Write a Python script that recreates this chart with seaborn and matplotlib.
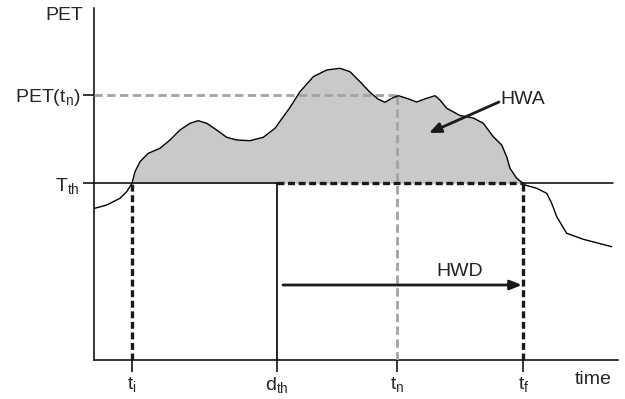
import numpy as np
import matplotlib
matplotlib.use("Agg")
import matplotlib.pyplot as plt
import seaborn as sns

# ---- data (time units, PET units) ----
time = [0.0, 1.27, 2.6, 3.27, 3.8, 4.1, 4.6, 5.43, 6.6, 7.6, 8.6, 9.6, 10.43, 11.27,
        12.27, 13.27, 14.27, 15.6, 16.93, 18.1, 18.93, 19.6, 20.6, 21.93, 23.27, 24.6,
        25.6, 26.6, 27.6, 28.43, 29.1, 29.77, 30.43, 31.27, 32.27, 33.27, 34.1, 34.6,
        35.27, 36.6, 37.93, 38.93, 39.93, 40.77, 41.27, 41.6, 42.27, 42.9, 43.1, 44.27,
        45.27, 45.77, 46.27, 47.27, 48.93, 51.77]
pet = [15.15, 15.5, 16.17, 16.83, 17.67, 18.83, 19.83, 20.67, 21.17, 22.0, 23.0, 23.67,
       23.93, 23.67, 23.0, 22.27, 22.0, 21.93, 22.27, 23.17, 24.33, 25.25, 26.83, 28.33,
       29.0, 29.17, 28.83, 27.83, 26.77, 26.07, 25.77, 26.17, 26.43, 26.17, 25.8, 26.17,
       26.43, 26.0, 25.17, 24.45, 24.2, 23.67, 22.33, 21.5, 20.33, 19.17, 18.17, 17.67,
       17.5, 17.17, 16.67, 15.67, 14.33, 12.67, 12.07, 11.33]

T_th = 17.67
PET_tn = 26.5
t_i, d_th, t_n, t_f = 3.77, 18.27, 30.27, 42.93
x_max, y_max = 52.4, 35.2
hwd_y = 7.5

x_tick_pos = [t_i, d_th, t_n, t_f]
x_tick_labels = [r'$\mathrm{t_i}$', r'$\mathrm{d_{th}}$', r'$\mathrm{t_n}$', r'$\mathrm{t_f}$']
y_tick_pos = [T_th, PET_tn]
y_tick_labels = [r'$\mathrm{T_{th}}$', r'PET(t$_\mathrm{n}$)']

# ---- style ----
sns.set_style("white")
plt.rcParams['font.family'] = ['Liberation Sans', 'DejaVu Sans']
plt.rcParams['mathtext.fontset'] = 'custom'
plt.rcParams['mathtext.rm'] = 'Liberation Sans'
plt.rcParams['mathtext.it'] = 'Liberation Sans:italic'
plt.rcParams['lines.scale_dashes'] = False

fig = plt.figure(figsize=(6.25, 3.99), dpi=100)
ax = fig.add_axes([94/625, (399-360)/399, (618-94)/625, (360-8)/399])

pet_arr = np.array(pet)
time_arr = np.array(time)
ax.fill_between(time_arr, pet_arr, T_th, where=pet_arr >= T_th - 1e-9,
                interpolate=True, color='#c8c9cb', lw=0, zorder=1)
sns.lineplot(x=time, y=pet, ax=ax, color='black', lw=1.0, estimator=None, zorder=5,
             solid_joinstyle='round')

# threshold line (solid parts) and dashed HWD segment
ax.plot([0, d_th], [T_th, T_th], color='black', lw=1.1, zorder=4)
ax.plot([t_f, 51.9], [T_th, T_th], color='black', lw=1.1, zorder=4)
ax.plot([d_th, t_f], [T_th, T_th], color='#1a1a1a', lw=2.4,
        linestyle=(0, (5, 2.6)), zorder=6)

# verticals
ax.plot([t_i, t_i], [0, T_th], color='#1a1a1a', lw=2.4, linestyle=(0, (5, 2.6)), zorder=6)
ax.plot([t_f, t_f], [0, T_th], color='#1a1a1a', lw=2.4, linestyle=(0, (5, 2.6)), zorder=6)
ax.plot([d_th, d_th], [0, T_th], color='black', lw=1.2, zorder=4)

# gray PET(t_n) guides
ax.plot([0, t_n], [PET_tn, PET_tn], color='#a3a3a3', lw=2.0, linestyle=(0, (6, 3.2)), zorder=3)
ax.plot([t_n, t_n], [0, PET_tn], color='#a3a3a3', lw=2.0, linestyle=(0, (6, 3.2)), zorder=3)

# annotations
ax.annotate('', xy=(33.5, 22.7), xytext=(40.5, 25.8),
            arrowprops=dict(arrowstyle='-|>,head_length=0.7,head_width=0.3',
                            color='#1a1a1a', lw=2.0, shrinkA=0, shrinkB=0), zorder=7)
ax.text(40.6, 26.0, 'HWA', fontsize=14, ha='left', va='center', color='#222222')
ax.annotate('', xy=(42.8, hwd_y), xytext=(18.9, hwd_y),
            arrowprops=dict(arrowstyle='-|>,head_length=0.7,head_width=0.28',
                            color='#1a1a1a', lw=2.0, shrinkA=0, shrinkB=0), zorder=7)
ax.text(36.6, 8.8, 'HWD', fontsize=14, ha='center', va='center', color='#222222')

ax.text(49.9, -1.9, 'time', fontsize=14, ha='center', va='center', clip_on=False)
ax.text(-1.1, 34.4, 'PET', fontsize=14, ha='right', va='center', clip_on=False)

# axes
ax.set_xlim(0, x_max)
ax.set_ylim(0, y_max)
for s in ['top', 'right']:
    ax.spines[s].set_visible(False)
for s in ['left', 'bottom']:
    ax.spines[s].set_linewidth(1.1)
    ax.spines[s].set_color('black')
ax.set_xticks(x_tick_pos)
ax.set_xticklabels(x_tick_labels)
ax.set_yticks(y_tick_pos)
ax.set_yticklabels(y_tick_labels)
ax.tick_params(axis='x', direction='out', length=8.6, width=1.1, pad=2, labelsize=14,
               bottom=True, color='black')
ax.tick_params(axis='y', direction='out', length=8, width=1.1, pad=2, labelsize=14,
               left=True, color='black')
ax.set_xlabel('')
ax.set_ylabel('')

fig.savefig('out.png', dpi=100)
